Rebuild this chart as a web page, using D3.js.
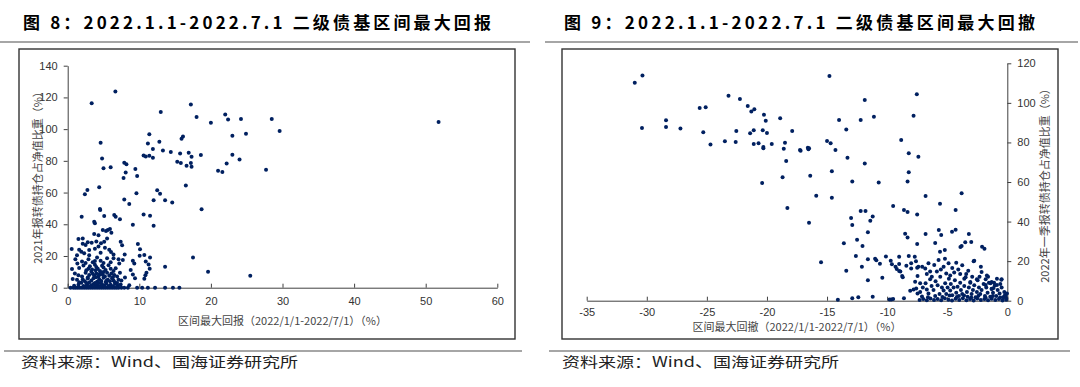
<!DOCTYPE html>
<html>
<head>
<meta charset="utf-8">
<script src="https://cdn.jsdelivr.net/npm/d3@7"></script>
<style>
body{margin:0;background:#fff;}
svg text{font-family:"Liberation Sans",Arial,sans-serif;}
</style>
</head>
<body>
<svg id="chart" width="1080" height="387"></svg>
<script>
"use strict";

//
//	Data
//
var titles = ["图 8：2022.1.1-2022.7.1 二级债基区间最大回报", "图 9：2022.1.1-2022.7.1 二级债基区间最大回撤"];
var sourceNote = "资料来源：Wind、国海证券研究所";
var xTitles = ["区间最大回报（2022/1/1-2022/7/1）（%）", "区间最大回撤（2022/1/1-2022/7/1）（%）"];
var yTitles = ["2021年报转债持仓占净值比重（%）", "2022年一季报转债持仓占净值比重（%）"];

var returnTicks = [0, 10, 20, 30, 40, 50, 60];
var returnHoldTicks = [0, 20, 40, 60, 80, 100, 120, 140];
var drawdownTicks = [-35, -30, -25, -20, -15, -10, -5, 0];
var drawdownHoldTicks = [0, 20, 40, 60, 80, 100, 120];

// [max return %, 2021 CB holding %]
var returnPts = [
[3.35,116.3],[6.66,123.8],[4.6,91.4],[4.8,81.4],[5.0,75.3],[6.0,75.9],[2.75,61.6],[2.4,58.9],[4.4,63.3],[4.5,49.6],
[4.55,49.0],[1.95,44.8],[5.1,45.2],[6.5,45.8],[6.7,44.8],[7.3,43.1],[3.7,41.6],[3.8,40.6],[7.9,78.8],[8.2,77.8],
[7.8,69.2],[8.1,72.7],[7.9,55.7],[8.6,52.8],[9.45,74.8],[9.7,70.4],[9.6,59.5],[9.1,39.7],[11.2,91],[11.4,96.7],
[10.6,83.4],[10.9,82.8],[11.4,83.2],[11.9,82],[11.9,87.5],[13.0,110.8],[12.8,92.1],[13.3,86.6],[14.4,85.6],[12.5,61.4],
[12.9,59.3],[13.6,55.1],[14.6,53.8],[12.0,55.1],[10.6,46.2],[11.5,45.4],[12.0,39.1],[15.3,79.5],[15.8,78.6],[15.7,84.7],
[15.9,94],[16.1,95.4],[16.6,76.9],[16.5,64.5],[16.9,85.1],[17.2,115.6],[17.3,82.6],[17.2,78.6],[17.3,76.3],[18.0,107.6],
[18.6,83.7],[18.7,49.4],[17.5,19.1],[19.6,10.1],[20.0,104],[21.0,73.8],[21.6,72.9],[22.0,109.3],[22.4,106],[22.2,78.4],
[23.0,95.9],[23.0,83.9],[24.2,106.4],[24.0,80.9],[24.9,97.1],[25.5,7.6],[27.7,74.4],[28.5,106.4],[29.6,98.8],[51.8,104.5],
[13.6,13.2],
[0.4,0],[0.8,0],[1.1,0],[1.4,0],[1.7,0],[2.0,0],[2.3,0],[2.6,0],[2.9,0],[3.2,0],[3.5,0],[3.8,0],[4.1,0],[4.4,0],[4.7,0],
[5.0,0],[5.3,0],[5.6,0],[5.9,0],[6.2,0],[6.5,0],[6.8,0],[7.1,0],[7.5,0],[7.9,0],[8.4,0],[9.7,0],[10.4,0],[11.2,0],[12.2,0],
[13.6,0],[14.7,0],[15.6,0],
[0.9,1.2],[1.5,1.8],[2.2,1.1],[2.7,2.0],[3.0,0.8],[3.3,1.6],[3.6,2.4],[3.9,1.0],[4.2,1.9],[4.5,0.9],[4.8,2.2],[5.1,1.3],
[5.4,2.6],[5.7,1.0],[6.0,1.8],[6.3,0.9],[6.6,2.3],[7.0,1.2],[7.4,2.0],[8.6,1.5],[5.2,0.5],[3.45,0.4],[2.45,0.6],[4.35,0.5],
[0.7,5.5],[1.3,5.0],[2.4,4.0],[2.8,5.8],[3.3,4.5],[3.6,6.0],[4.1,3.8],[4.4,5.4],[4.7,4.2],[5.0,6.2],[5.3,3.6],[5.6,5.0],
[5.9,4.0],[6.2,6.0],[6.6,3.5],[7.1,5.0],[7.5,4.5],[9.4,5.9],[10.7,5.7],[1.9,3.2],[2.1,5.2],[3.0,3.3],[3.8,3.0],[4.6,3.1],
[5.45,4.5],[6.4,4.6],[6.9,3.0],[4.25,2.9],[2.6,2.9],[1.6,3.5],
[1.0,9.0],[2.0,7.0],[2.5,9.5],[3.0,8.0],[3.3,10.0],[3.7,7.5],[4.0,9.0],[4.3,7.0],[4.6,9.8],[4.9,8.2],[5.2,7.0],[5.5,9.4],
[5.8,7.6],[6.1,9.0],[6.5,8.0],[6.9,7.0],[7.3,9.5],[9.1,8.4],[10.85,7.8],[11.0,9.5],[8.0,6.5],[1.5,7.8],[2.8,6.5],[3.5,8.8],
[4.45,8.3],[5.0,9.9],[3.95,6.6],[6.3,6.6],
[0.6,11.8],[1.6,12.5],[2.2,14.0],[2.6,11.0],[3.1,13.5],[3.4,11.5],[3.8,14.5],[4.2,12.0],[4.5,10.5],[4.8,13.8],[5.3,11.2],
[5.7,14.2],[6.0,12.0],[6.4,10.5],[6.7,12.2],[7.2,15.3],[8.8,11.1],[11.45,12.0],[11.3,14.7],[3.9,11.0],[2.9,12.0],[5.0,12.7],
[4.0,13.0],
[1.35,15.3],[1.07,17.9],[2.0,16.5],[2.9,18.0],[3.5,16.0],[4.1,19.0],[4.6,17.0],[5.0,15.5],[5.5,18.5],[6.4,18.5],[7.1,17.9],
[7.7,17.4],[9.1,17.0],[9.3,15.3],[10.05,20.2],[10.9,16.6],[11.5,19.1],[3.0,20.5],[2.5,15.5],[3.8,16.8],[6.0,16.0],
[0.56,24.4],[1.6,24.0],[1.9,22.7],[2.1,27.7],[2.5,26.9],[2.8,28.6],[3.0,23.8],[3.35,28.4],[4.0,29.2],[4.65,28.0],[4.6,22.1],
[5.2,25.2],[6.05,22.5],[5.1,29.0],[7.4,29.0],[7.6,26.7],[7.96,21.0],[9.8,27.5],[10.1,24.2],[10.7,20.6],[2.3,21.7],[3.8,24.5],
[4.3,26.0],[5.8,24.0],[6.4,21.0],[1.3,20.5],
[2.1,31.1],[3.7,33.8],[4.3,33.0],[4.9,36.4],[5.35,35.7],[5.6,36.4],[5.9,37.0],[6.1,34.7],[5.5,31.1],[1.5,30.7]
];

// [max drawdown %, 2022Q1 CB holding %]
var drawdownPts = [
[-31.0,110.2],[-30.36,113.8],[-30.4,87.3],[-28.4,91.2],[-28.4,87.8],[-27.2,87],[-25.6,97.4],[-25.1,97.8],[-25.3,85.1],[-24.7,78.9],
[-23.5,80.6],[-23.2,103.6],[-22.6,80.2],[-22.55,85.8],[-22.25,102],[-21.6,98.4],[-21.3,95.6],[-21.05,96.8],[-21.4,84.6],[-21.1,86.1],
[-21.1,79.2],[-20.7,79.6],[-20.4,59.5],[-20.25,94],[-20.1,91],[-20.35,86.1],[-20.0,84.8],[-20.3,77.7],[-20.3,77],[-19.6,79.2],
[-18.9,92.2],[-18.5,79.9],[-18.6,76.8],[-18.4,70.6],[-17.9,85.8],[-18.7,62.4],[-18.3,46.9],[-17.2,75.8],[-16.6,77.3],[-16.55,76.5],
[-16.4,63.2],[-16.5,39.4],[-14.8,113.6],[-7.53,104.3],[-11.86,101.5],[-7.8,93.5],[-14.0,91.4],[-12.2,91.4],[-11.1,93],[-13.4,86.6],
[-15.0,80.7],[-14.7,79.6],[-14.3,76.2],[-8.83,81.2],[-13.3,72.3],[-8.2,74.5],[-7.4,72.8],[-11.86,69.4],[-14.6,65.4],[-8.2,64.9],
[-12.9,60.2],[-10.7,59.8],[-8.3,60.2],[-15.9,53.1],[-14.6,52.1],[-6.8,52.9],[-5.6,49],[-3.8,54.3],[-4.3,45.8],[-9.5,47.9],
[-8.6,45.8],[-8.3,44.8],[-7.5,43.6],[-12.2,45.3],[-11.8,45.3],[-11.2,42.6],[-11.4,40.4],[-13.0,41.8],[-12.9,38.3],[-11.6,34.6],
[-8.5,33.9],[-8.3,31.9],[-6.8,33.7],[-5.7,35.7],[-5.5,33.2],[-4.6,34.9],[-4.3,35.9],[-3.2,33.7],[-3.0,29.7],[-3.5,29.5],
[-3.9,27.1],[-3.8,27.6],[-2.1,27.3],[-1.9,26.3],[-13.6,29],[-12.5,30.8],[-12.05,27.6],[-7.5,28.6],[-6.0,29.2],[-5.6,24.8],
[-5.2,25.6],[-15.5,19.4],[-13.4,15.2],[-12.6,22.6],[-12.1,17.2],[-11.6,20.9],[-11.0,21.2],[-10.9,20.4],[-11.6,10.3],[-10.6,18.7],
[-10.4,11.6],[-10.1,22.4],[-9.7,20.2],[-9.6,18.4],[-9.3,17.2],[-9.2,16],[-9.0,18.5],[-9.0,22.2],[-8.9,14.8],[-8.7,11.8],
[-8.4,17.7],[-8.2,22.6],[-8.0,18.9],[-8.0,16.3],[-7.7,22.2],[-7.5,16.7],[-7.6,19.9],[-7.4,17.2],[-8.75,12.5],[-9.0,15],
[-12.9,1.3],[-12.4,1.7],[-11.2,2],[-14.1,0.5],[-9.8,0.6],[-9.65,0.6],[-9.5,0.8],[-8.6,1.3],[-0.5,10.6],[-0.2,2.7],
[-0.1,1.3],[-1.1,9.1],[-0.86,7.9],[-1.4,8.8],[-1.3,5.9],[-2.2,17.2],[-2.8,19.9],[-1.6,12.1],[-1.8,7.9],[-16.5,77],[-17.25,76.2],
[-8.08,5.06],[-7.8,5.7],[-7.58,6.2],[-7.47,3.7],[-7.25,4.4],[-7.03,6.7],[-6.8,8.8],[-6.7,5.7],[-6.56,3.7],[-6.42,10.8],
[-6.3,7.4],[-6.14,5.4],[-5.97,9.8],[-5.8,7.8],[-5.64,3.4],[-5.58,12.1],[-5.44,6.7],[-5.3,5.1],[-5.17,8.8],[-5.08,3.4],
[-4.97,6.7],[-4.86,11.1],[-4.75,5.1],[-4.7,8.4],[-4.58,2.7],[-4.47,6.7],[-4.36,10.4],[-4.25,4.0],[-4.14,7.1],[-4.03,2.4],
[-3.92,9.1],[-3.86,5.4],[-3.75,3.4],[-3.58,7.4],[-3.47,11.8],[-3.36,4.4],[-3.3,2.0],[-3.2,6.7],[-3.08,9.1],[-2.97,3.4],
[-2.86,5.4],[-2.75,7.8],[-2.64,1.7],[-2.53,4.4],[-2.47,10.4],[-2.36,6.7],[-2.25,3.4],[-2.14,5.4],[-1.97,8.4],[-1.86,2.4],
[-1.75,6.7],[-1.64,4.0],[-1.53,9.1],[-1.42,2.0],[-1.3,6.1],[-1.19,4.0],[-1.03,7.8],[-0.92,2.4],[-0.8,5.4],[-0.64,3.7],
[-0.47,6.7],[-0.36,1.7],[-0.25,4.4],[-0.14,2.4],[-0.03,3.7],
[-7.67,9.6],[-7.47,12.5],[-7.25,8.8],[-7.08,17.2],[-6.83,16.3],[-6.7,13.5],[-6.56,18.9],[-6.42,14.7],[-6.28,12.1],[-6.08,18.0],
[-5.86,14.8],[-5.72,20.6],[-5.53,15.8],[-5.3,17.2],[-5.19,21.2],[-5.08,13.8],[-4.89,18.9],[-4.75,12.8],[-4.58,16.5],[-4.42,14.2],
[-4.25,19.2],[-4.08,15.8],[-3.92,13.5],[-3.75,17.9],[-3.58,11.1],[-3.42,13.5],[-3.25,15.2],[-3.08,9.4],[-2.92,12.1],[-2.75,20.2],
[-2.53,10.8],[-2.31,12.1],[-2.14,14.5],[-1.8,10.8],[-1.7,12.8],[-1.3,9.4],[-1.14,6.4],[-0.86,11.1],[-0.58,8.4],[-0.47,10.8],
[-7.3,0.3],[-7.0,0.8],[-6.7,0.2],[-6.4,1.1],[-6.1,0.4],[-5.8,0.9],[-5.5,0.2],[-5.2,1.3],[-4.9,0.5],[-4.6,0.1],
[-4.3,1.0],[-4.0,0.3],[-3.7,1.2],[-3.4,0.2],[-3.1,0.8],[-2.8,0.1],[-2.5,1.1],[-2.2,0.4],[-1.9,0.9],[-1.6,0.2],
[-1.3,1.0],[-1.0,0.3],[-0.7,0.8],[-0.4,0.1],[-0.1,0.5],
[-7.1,2.1],[-6.6,1.8],[-6.0,2.4],[-5.4,1.9],[-4.8,2.6],[-4.2,1.9],[-3.6,2.6],[-3.0,1.6],[-2.4,2.5],[-1.8,1.5],[-1.2,2.4],[-0.6,1.6]
];

var svg = d3.select("#chart");
var DOT = "#002060";
var AXIS = "#404040";

// plain hyphen minus, like the original
function plainNum(d){ return String(d); }

//
//	One panel: title, rule, frame, axes, dots, source line
//
function drawPanel(p){
	var g = svg.append("g");

	g.append("text")
		.attr("x", p.titleX).attr("y", 29)
		.attr("textLength", p.titleW).attr("lengthAdjust", "spacing")
		.style("font-family", "'Noto Sans CJK SC', sans-serif")
		.style("font-weight", "bold").style("font-size", "17px")
		.attr("fill", "#000")
		.text(p.title);

	g.append("line").attr("x1", p.ruleX1).attr("x2", p.ruleX2).attr("y1", 42).attr("y2", 42)
		.attr("stroke", "#a6a6a6").attr("stroke-width", 2);
	g.append("line").attr("x1", p.ruleX1 + 4).attr("x2", p.ruleX2 - 8).attr("y1", 351).attr("y2", 351)
		.attr("stroke", "#a6a6a6").attr("stroke-width", 2);

	g.append("rect").attr("x", p.frame[0]).attr("y", 49).attr("width", p.frame[1]).attr("height", 290)
		.attr("fill", "none").attr("stroke", "#333").attr("stroke-width", 1.4);

	var x = d3.scaleLinear().domain(p.xDomain).range(p.xRange);
	var y = d3.scaleLinear().domain(p.yDomain).range([p.yBottom, p.yTop]);

	var xAxis = d3.axisBottom(x).tickValues(p.xTicks).tickFormat(plainNum)
		.tickSize(-4).tickSizeOuter(0).tickPadding(p.xPad);
	var gx = g.append("g").attr("transform", "translate(0," + p.yBottom + ")").call(xAxis);

	var yAxis = (p.right ? d3.axisRight(y) : d3.axisLeft(y))
		.tickValues(p.yTicks).tickFormat(plainNum).tickSize(4).tickSizeOuter(0).tickPadding(6);
	var gy = g.append("g").attr("transform", "translate(" + (p.right ? p.xRange[1] : p.xRange[0]) + ",0)").call(yAxis);

	[gx, gy].forEach(function(a){
		a.selectAll("path,line").attr("stroke", AXIS).attr("stroke-width", 1);
		a.selectAll("text").attr("fill", "#333").style("font-size", "11px")
			.style("font-family", "'Liberation Sans', Arial, sans-serif");
	});

	g.append("g").selectAll("circle")
		.data(p.pts)
		.join("circle")
		.attr("cx", function(d){ return x(d[0]); })
		.attr("cy", function(d){ return y(d[1]); })
		.attr("r", 2)
		.attr("fill", DOT);

	g.append("text")
		.attr("x", (p.xRange[0] + p.xRange[1]) / 2).attr("y", p.xTitleY)
		.attr("text-anchor", "middle")
		.style("font-family", "'Noto Sans CJK SC', sans-serif").style("font-size", "11px")
		.attr("fill", "#444")
		.text(p.xTitle);

	g.append("text")
		.attr("transform", "translate(" + p.yTitleX + "," + p.yTitleY + ") rotate(-90)")
		.attr("text-anchor", "middle").attr("dy", "0.35em")
		.style("font-family", "'Noto Sans CJK SC', sans-serif").style("font-size", "11px")
		.attr("fill", "#444")
		.text(p.yTitle);

	g.append("text")
		.attr("x", p.titleX - 2).attr("y", 367)
		.attr("textLength", 277).attr("lengthAdjust", "spacingAndGlyphs")
		.style("font-family", "'Noto Sans CJK SC', sans-serif").style("font-size", "14px")
		.attr("fill", "#222")
		.text(sourceNote);
}

drawPanel({
	title: titles[0], titleX: 23, titleW: 468, ruleX1: 0, ruleX2: 530,
	frame: [19, 496],
	xDomain: [0, 60], xRange: [67.7, 497.3], yDomain: [0, 140], yBottom: 287.7, yTop: 65.7,
	xTicks: returnTicks, yTicks: returnHoldTicks, xPad: 10,
	pts: returnPts,
	xTitle: xTitles[0], xTitleY: 325, yTitle: yTitles[0], yTitleX: 38, yTitleY: 175
});

drawPanel({
	title: titles[1], titleX: 564, titleW: 471, ruleX1: 545, ruleX2: 1078, right: true,
	frame: [562, 496],
	xDomain: [-35, 0], xRange: [586.7, 1007.3], yDomain: [0, 120], yBottom: 300.7, yTop: 63.3,
	xTicks: drawdownTicks, yTicks: drawdownHoldTicks, xPad: 8,
	pts: drawdownPts,
	xTitle: xTitles[1], xTitleY: 331, yTitle: yTitles[1], yTitleX: 1045, yTitleY: 183
});
</script>
</body>
</html>
